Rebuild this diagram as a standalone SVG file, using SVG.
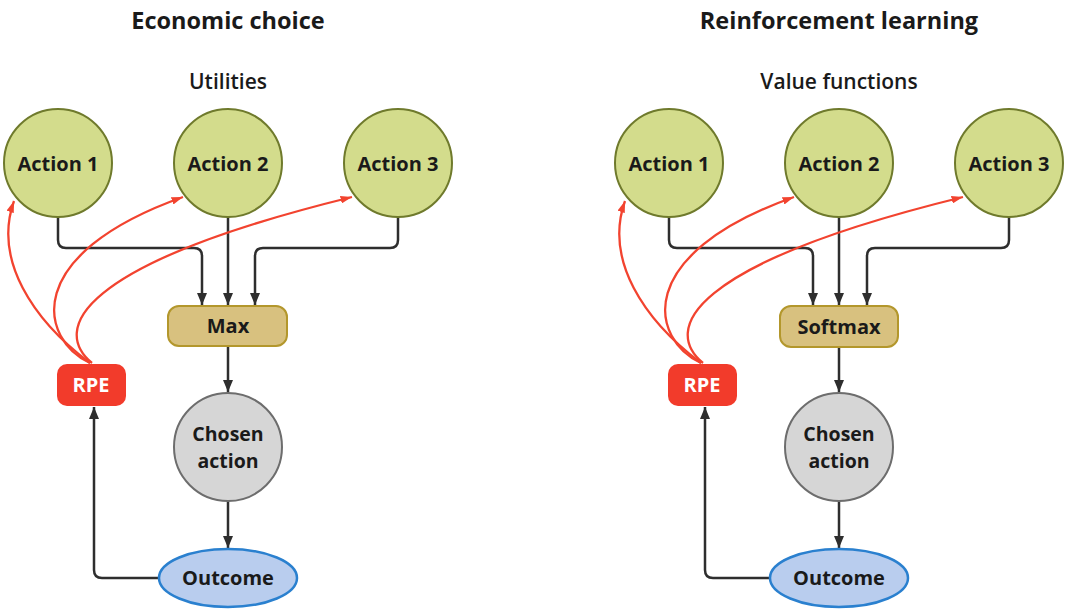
<svg xmlns="http://www.w3.org/2000/svg" width="1068" height="609" viewBox="0 0 1068 609">
<style>
text{font-family:"Open Sans","Noto Sans","DejaVu Sans",sans-serif;font-weight:700;fill:#1a1a1a;text-anchor:middle}
.title{font-size:23.5px}
.sub{font-size:21px;font-weight:600}
.lbl{font-size:20px}
.two{font-size:19.5px}
.act{fill:#d3dc8c;stroke:#6f7a2c;stroke-width:2}
.max{fill:#d8c17f;stroke:#b3972c;stroke-width:2}
.cho{fill:#d6d6d6;stroke:#6d6d6d;stroke-width:2}
.out{fill:#b9cdee;stroke:#2a80cf;stroke-width:2.5}
.rpe{fill:#f23b2b}
.rpet{fill:#ffffff}
.k{fill:none;stroke:#2e2e2e;stroke-width:2.5;marker-end:url(#ak)}
.r{fill:none;stroke:#f2432f;stroke-width:2.3;marker-end:url(#ar)}
</style>
<defs>
<marker id="ak" viewBox="0 0 12 10" refX="12" refY="5" markerWidth="4.8" markerHeight="4" markerUnits="strokeWidth" orient="auto"><path d="M0,0 L12,5 L0,10 Z" fill="#2e2e2e"/></marker>
<marker id="ar" viewBox="0 0 12 8" refX="12" refY="4" markerWidth="5" markerHeight="3.33" markerUnits="strokeWidth" orient="auto"><path d="M0,0 L12,4 L0,8 Z" fill="#f2432f"/></marker>
</defs>
<rect width="1068" height="609" fill="#ffffff"/>
<g id="left">
<text class="title" x="228" y="29">Economic choice</text>
<text class="sub" x="228" y="89">Utilities</text>
<g id="connectors-left">
<path class="k" d="M58,217 V240 Q58,248 66,248 H194 Q202,248 202,256 V305"/>
<path class="k" d="M228,217 V305"/>
<path class="k" d="M398,217 V240 Q398,248 390,248 H263 Q255,248 255,256 V305"/>
<path class="k" d="M228,346 V392"/>
<path class="k" d="M228,501 V548"/>
<path class="k" d="M159,578 H102 Q94,578 94,570 V407"/>
<path class="r" d="M90,363 C33,320 -7,260 14,201"/>
<path class="r" d="M90,363 C40,340 20,255 183,197"/>
<path class="r" d="M92,363 C52,330 75,265 352,197"/>
</g>
<g id="l-action1"><circle class="act" cx="58" cy="163" r="54"/><text class="lbl" x="58" y="171">Action 1</text></g>
<g id="l-action2"><circle class="act" cx="228" cy="163" r="54"/><text class="lbl" x="228" y="171">Action 2</text></g>
<g id="l-action3"><circle class="act" cx="398" cy="163" r="54"/><text class="lbl" x="398" y="171">Action 3</text></g>
<g id="l-max"><rect class="max" x="168" y="306" width="119" height="40" rx="11"/><text class="lbl" x="228" y="333">Max</text></g>
<g id="l-chosen"><circle class="cho" cx="228" cy="447" r="54"/><text class="two" x="228" y="441">Chosen</text><text class="two" x="228" y="468">action</text></g>
<g id="l-outcome"><ellipse class="out" cx="228" cy="578" rx="69" ry="29"/><text class="lbl" x="228" y="585">Outcome</text></g>
<g id="l-rpe"><rect class="rpe" x="57" y="364" width="69" height="42" rx="10"/><text class="lbl rpet" x="91" y="392">RPE</text></g>
</g>
<g id="right">
<text class="title" x="839" y="29">Reinforcement learning</text>
<text class="sub" x="839" y="89">Value functions</text>
<g id="connectors-right">
<path class="k" d="M669,217 V240 Q669,248 677,248 H805 Q813,248 813,256 V305"/>
<path class="k" d="M839,217 V305"/>
<path class="k" d="M1009,217 V240 Q1009,248 1001,248 H875 Q867,248 867,256 V305"/>
<path class="k" d="M839,347 V392"/>
<path class="k" d="M839,501 V548"/>
<path class="k" d="M770,578 H713 Q705,578 705,570 V407"/>
<path class="r" d="M701,363 C644,320 604,260 625,201"/>
<path class="r" d="M701,363 C651,340 631,255 794,197"/>
<path class="r" d="M703,363 C663,330 686,265 963,197"/>
</g>
<g id="r-action1"><circle class="act" cx="669" cy="163" r="54"/><text class="lbl" x="669" y="171">Action 1</text></g>
<g id="r-action2"><circle class="act" cx="839" cy="163" r="54"/><text class="lbl" x="839" y="171">Action 2</text></g>
<g id="r-action3"><circle class="act" cx="1009" cy="163" r="54"/><text class="lbl" x="1009" y="171">Action 3</text></g>
<g id="r-softmax"><rect class="max" x="780" y="306" width="118" height="41" rx="11"/><text class="lbl" x="839" y="334">Softmax</text></g>
<g id="r-chosen"><circle class="cho" cx="839" cy="447" r="54"/><text class="two" x="839" y="441">Chosen</text><text class="two" x="839" y="468">action</text></g>
<g id="r-outcome"><ellipse class="out" cx="839" cy="578" rx="69" ry="29"/><text class="lbl" x="839" y="585">Outcome</text></g>
<g id="r-rpe"><rect class="rpe" x="668" y="364" width="69" height="42" rx="10"/><text class="lbl rpet" x="702" y="392">RPE</text></g>
</g>
</svg>
